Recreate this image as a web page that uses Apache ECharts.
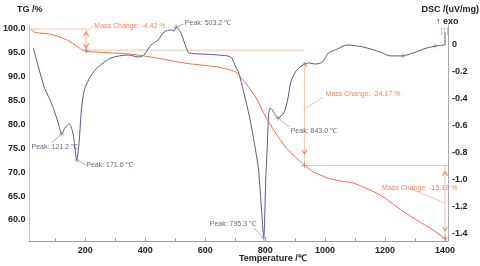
<!DOCTYPE html>
<html><head><meta charset="utf-8">
<script src="https://cdn.jsdelivr.net/npm/echarts@6/dist/echarts.min.js"></script>
<style>html,body{margin:0;padding:0;background:#fff}#c{width:480px;height:266px}</style>
</head><body><div id="c"></div>
<script>
// DSC curve (temperature in °C, DSC in uV/mg)
const dscTemps = [27,37,54,64,87,110,121.2,134,147,160,171.6,180,187,197,220,243,286,343,376,396,419,443,463,486,496,503.2,519,536,546,586,642,685,702,712,735,752,768,778,788,795.3,802,808,812,818,828,843,862,875,885,901,925,945,968,991,1011,1034,1074,1127,1184,1217,1257,1294,1340,1373,1400];
const dscValues = [-0.022,-0.111,-0.244,-0.319,-0.430,-0.578,-0.659,-0.607,-0.585,-0.667,-0.852,-0.704,-0.481,-0.333,-0.222,-0.163,-0.096,-0.074,-0.089,-0.074,0,0.037,0.096,0.111,0.104,0.133,0.089,-0.015,-0.059,-0.067,-0.074,-0.089,-0.163,-0.207,-0.407,-0.578,-0.778,-0.926,-1.222,-1.430,-1.0,-0.704,-0.504,-0.467,-0.496,-0.541,-0.504,-0.407,-0.281,-0.2,-0.148,-0.133,-0.141,-0.126,-0.059,-0.037,0,-0.015,-0.052,-0.081,-0.081,-0.059,-0.022,-0.007,0];
// TG curve (temperature in °C, mass in %)
const tgTemps = [20,27,47,80,124,157,180,197,237,346,419,476,529,586,642,685,702,712,735,768,802,835,868,901,931,961,978,1008,1051,1094,1127,1184,1240,1294,1350,1393,1400];
const tgValues = [100.0,99.4,99.16,98.95,98.12,97.07,96.02,95.39,95.18,94.76,94.14,93.51,92.88,92.46,92.04,91.41,91.0,90.37,88.69,85.76,81.57,78.22,75.29,73.19,71.5,70.05,69.6,68.8,68.17,67.75,66.91,65.24,62.72,60.42,58.32,56.44,56.0];
// peaks
const peakTemps = [121.2,171.6,503.2,795.3,843.0];
const peakDsc = [-0.659,-0.852,0.133,-1.43,-0.541];
const peakLabelTemps = [20.5,203,532,615,885];
const peakLabelDsc = [-0.756,-0.889,0.163,-1.326,-0.637];
const peakLeaderTemps = [87,203,529,762,881];
const peakLeaderDsc = [-0.726,-0.889,0.156,-1.356,-0.607];
// mass changes
const stepStartTemps = [203,931,1400];
const stepTopTG = [100.0,95.58,71.41];
const stepBottomTG = [95.58,71.41,56.22];
const massChanges = [-4.42,-24.17,-15.19];
const stepLineStartTemps = [20,203,931];
const stepVertTopTG = [100.0,93.1,71.41];
const arrowUpTG = [98.9,92.5,69.7];
const arrowDownTG = [96.5,74.3,58.2];
const massLabelTemps = [230,1001,1190];
const massLabelTG = [100.63,86.39,66.70];
const massLeaderFrom = [[203,99.4],[931,83.25],[1400,63.5]];
const massLeaderTo = [[225,100.5],[994,85.76],[1284,66.6]];
// extra marks on DSC
const dscTickTemps = [1260,1367];
const dscTickValues = [-0.081,-0.007];
// axis ticks
const xLabelValues = [200,400,600,800,1000,1200,1400];
const xTickValues = [100,200,300,400,500,600,700,800,900,1000,1100,1200,1300,1400];
const tgLabelValues = [60,65,70,75,80,85,90,95,100];
const dscLabelValues = [0,-0.2,-0.4,-0.6,-0.8,-1.0,-1.2,-1.4];

const FONT = 'Liberation Sans, Arial, sans-serif';
const DSC_COLOR = '#5b5b86';
const TG_COLOR = '#ee6f4d';
const REF_COLOR = '#f7c4ae';
const TXT_ORANGE = '#e9663f';
const TXT_PEAK = '#3d3d5e';
const crossPath = 'path://M5,0 L5,10 M0,5 L10,5';
const upPath = 'path://M0,7 L5,0 L10,7';
const downPath = 'path://M0,0 L5,7 L10,0';

const zip = (a, b) => a.map((v, i) => [v, b[i]]);
const series = [];
function line(data, yIdx, color, width, z) {
  series.push({type:'line', yAxisIndex:yIdx, data, symbol:'none', silent:true, z:z||2, clip:false,
    lineStyle:{color, width:width||1}, animation:false});
}
// reference lines for mass change
for (let i = 0; i < 3; i++) {
  line([[stepLineStartTemps[i], stepTopTG[i]], [stepStartTemps[i], stepTopTG[i]]], 0, REF_COLOR, 1, 1);
  line([[stepStartTemps[i], stepVertTopTG[i]], [stepStartTemps[i], stepBottomTG[i]]], 0, REF_COLOR, 1, 1);
  line([massLeaderFrom[i], massLeaderTo[i]], 0, REF_COLOR, 1, 1);
}
line([[931, 71.41], [1410, 71.41]], 0, REF_COLOR, 1, 1);
// curves
series.push({type:'line', yAxisIndex:1, data:zip(dscTemps, dscValues), symbol:'none', smooth:0.25,
  lineStyle:{color:DSC_COLOR, width:1}, z:3, animation:false});
series.push({type:'line', yAxisIndex:0, data:zip(tgTemps, tgValues), symbol:'none', smooth:0.25,
  lineStyle:{color:TG_COLOR, width:1}, z:3, animation:false});
line([[1400, 0], [1400, 0.09]], 1, DSC_COLOR, 1, 3);
// peak leaders
for (let i = 0; i < peakTemps.length; i++) {
  line([[peakTemps[i], peakDsc[i]], [peakLeaderTemps[i], peakLeaderDsc[i]]], 1, '#9a9ab4', 0.8, 2);
}
// markers
series.push({type:'scatter', yAxisIndex:1, data:zip(peakTemps, peakDsc).concat(zip(dscTickTemps, dscTickValues)), clip:false,
  symbol:crossPath, symbolSize:5, itemStyle:{color:'none', borderColor:'#7a7a9a', borderWidth:0.8}, z:4, animation:false, silent:true});
series.push({type:'scatter', yAxisIndex:0, data:zip(stepStartTemps, stepBottomTG), clip:false,
  symbol:crossPath, symbolSize:6, itemStyle:{color:'none', borderColor:'#c07060', borderWidth:0.8}, z:4, animation:false, silent:true});
series.push({type:'scatter', yAxisIndex:0, data:zip(stepStartTemps, arrowUpTG), clip:false,
  symbol:upPath, symbolSize:[5,4], itemStyle:{color:'none', borderColor:TXT_ORANGE, borderWidth:1}, z:4, animation:false, silent:true});
series.push({type:'scatter', yAxisIndex:0, data:zip(stepStartTemps, arrowDownTG), clip:false,
  symbol:downPath, symbolSize:[5,4], itemStyle:{color:'none', borderColor:TXT_ORANGE, borderWidth:1}, z:4, animation:false, silent:true});
// text labels
function textSeries(points, yIdx, texts, color) {
  series.push({type:'scatter', yAxisIndex:yIdx, symbolSize:0.1, itemStyle:{color:'rgba(0,0,0,0)'}, clip:false,
    data: points.map((p, i) => ({value:p, label:{formatter:texts[i]}})),
    label:{show:true, position:'right', distance:0, color, fontSize:7, fontFamily:FONT, verticalAlign:'middle'},
    labelLayout:{hideOverlap:false},
    z:5, animation:false, silent:true});
}
textSeries(zip(peakLabelTemps, peakLabelDsc), 1, peakTemps.map(t => 'Peak: ' + t.toFixed(1) + ' \u2103'), TXT_PEAK);
textSeries(zip(massLabelTemps, massLabelTG), 0, massChanges.map(m => 'Mass Change: ' + m.toFixed(2) + ' %'), TXT_ORANGE);
textSeries([[1385, 0.10]], 1, ['[1]'], '#8a8aa8');

const chart = echarts.init(document.getElementById('c'), null, {renderer:'canvas'});
chart.setOption({
  animation:false,
  backgroundColor:'#fff',
  grid:{left:28, right:32, top:25, bottom:25},
  xAxis:{type:'value', min:14, max:1410,
    axisLine:{onZero:false, lineStyle:{color:'#9a9ab0', width:1}},
    axisTick:{show:true, inside:true, length:3, customValues:xTickValues, lineStyle:{color:'#9a9ab0'}},
    axisLabel:{customValues:xLabelValues, formatter:v => String(v), color:'#222', fontWeight:'bold', fontSize:9, fontFamily:FONT, margin:5},
    splitLine:{show:false}},
  yAxis:[
    {type:'value', min:55.6, max:100.84, position:'left',
      axisLine:{show:true, onZero:false, lineStyle:{color:'#f5b295', width:1}},
      axisTick:{show:false},
      axisLabel:{customValues:tgLabelValues, formatter:v => v.toFixed(1), color:'#222', fontWeight:'bold', fontSize:9, fontFamily:FONT, margin:4},
      splitLine:{show:false}},
    {type:'value', min:-1.452, max:0.148, position:'right',
      axisLine:{show:true, onZero:false, lineStyle:{color:'#a8a8c4', width:1}},
      axisTick:{show:false},
      axisLabel:{customValues:dscLabelValues, formatter:v => Math.abs(v) < 1e-9 ? '0' : v.toFixed(1), color:'#222', fontWeight:'bold', fontSize:9, fontFamily:FONT, margin:4},
      splitLine:{show:false}}
  ],
  graphic:[
    {type:'text', left:17, top:5, style:{text:'TG /%', font:'bold 9px ' + FONT, fill:'#222'}},
    {type:'text', right:1, top:5, style:{text:'DSC /(uV/mg)', font:'bold 9px ' + FONT, fill:'#222'}},
    {type:'text', left:436, top:17, style:{text:'\u2191 exo', font:'bold 9px ' + FONT, fill:'#222'}},
    {type:'text', left:239, top:254, style:{text:'Temperature /\u2103', font:'bold 9px ' + FONT, fill:'#222'}}
  ],
  series
});
</script></body></html>
